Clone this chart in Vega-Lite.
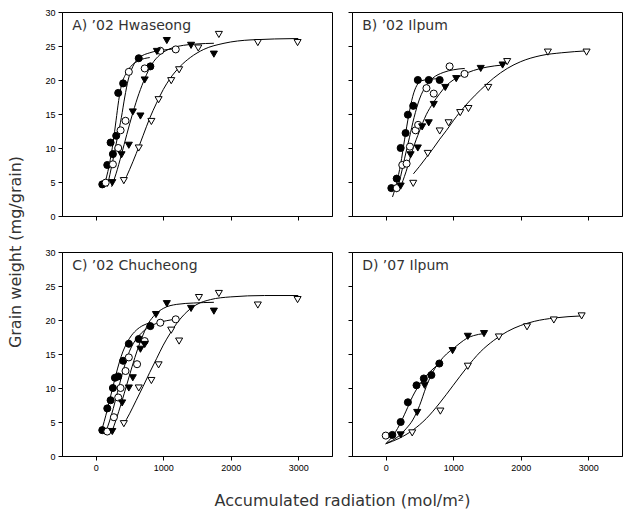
{
  "$schema": "https://vega.github.io/schema/vega-lite/v6.json",
  "padding": {"left": 8, "top": 7, "right": 5, "bottom": 5},
  "config": {
    "view": {"stroke": "black", "strokeWidth": 1},
    "axis": {"domainColor": "black", "tickColor": "black", "labelColor": "black", "labelFont": "Liberation Sans", "labelFontSize": 9, "tickSize": 4, "labelPadding": 3, "grid": false, "title": null, "labelOverlap": false},
    "concat": {"spacing": 14}
  },
  "datasets": {
    "points": [
      {"panel": "A", "s": "fc", "x": 97, "y": 4.65}, {"panel": "A", "s": "fc", "x": 171, "y": 7.5}, {"panel": "A", "s": "fc", "x": 220, "y": 10.8}, {"panel": "A", "s": "fc", "x": 254, "y": 9.1}, {"panel": "A", "s": "fc", "x": 303, "y": 11.8}, {"panel": "A", "s": "fc", "x": 333, "y": 18.1}, {"panel": "A", "s": "fc", "x": 406, "y": 19.5}, {"panel": "A", "s": "fc", "x": 637, "y": 23.2}, {"panel": "A", "s": "fc", "x": 809, "y": 22.0},
      {"panel": "A", "s": "oc", "x": 147, "y": 4.9}, {"panel": "A", "s": "oc", "x": 254, "y": 7.6}, {"panel": "A", "s": "oc", "x": 333, "y": 10.0}, {"panel": "A", "s": "oc", "x": 368, "y": 12.6}, {"panel": "A", "s": "oc", "x": 441, "y": 14.0}, {"panel": "A", "s": "oc", "x": 490, "y": 21.2}, {"panel": "A", "s": "oc", "x": 725, "y": 21.7}, {"panel": "A", "s": "oc", "x": 956, "y": 24.3}, {"panel": "A", "s": "oc", "x": 1185, "y": 24.5},
      {"panel": "A", "s": "ft", "x": 245, "y": 4.9}, {"panel": "A", "s": "ft", "x": 382, "y": 9.0}, {"panel": "A", "s": "ft", "x": 490, "y": 10.4}, {"panel": "A", "s": "ft", "x": 549, "y": 15.3}, {"panel": "A", "s": "ft", "x": 662, "y": 14.7}, {"panel": "A", "s": "ft", "x": 725, "y": 20.0}, {"panel": "A", "s": "ft", "x": 906, "y": 24.2}, {"panel": "A", "s": "ft", "x": 1053, "y": 25.8}, {"panel": "A", "s": "ft", "x": 1412, "y": 25.1}, {"panel": "A", "s": "ft", "x": 1750, "y": 23.8},
      {"panel": "A", "s": "ot", "x": 416, "y": 5.2}, {"panel": "A", "s": "ot", "x": 637, "y": 10.0}, {"panel": "A", "s": "ot", "x": 824, "y": 13.9}, {"panel": "A", "s": "ot", "x": 931, "y": 17.1}, {"panel": "A", "s": "ot", "x": 1118, "y": 19.9}, {"panel": "A", "s": "ot", "x": 1235, "y": 21.5}, {"panel": "A", "s": "ot", "x": 1519, "y": 24.7}, {"panel": "A", "s": "ot", "x": 1824, "y": 26.7}, {"panel": "A", "s": "ot", "x": 2401, "y": 25.5}, {"panel": "A", "s": "ot", "x": 2990, "y": 25.5},

      {"panel": "B", "s": "fc", "x": 83, "y": 4.1}, {"panel": "B", "s": "fc", "x": 162, "y": 5.5}, {"panel": "B", "s": "fc", "x": 221, "y": 10.0}, {"panel": "B", "s": "fc", "x": 294, "y": 12.2}, {"panel": "B", "s": "fc", "x": 328, "y": 14.9}, {"panel": "B", "s": "fc", "x": 407, "y": 16.2}, {"panel": "B", "s": "fc", "x": 475, "y": 20.0}, {"panel": "B", "s": "fc", "x": 637, "y": 20.0}, {"panel": "B", "s": "fc", "x": 799, "y": 20.0},
      {"panel": "B", "s": "oc", "x": 162, "y": 4.1}, {"panel": "B", "s": "oc", "x": 245, "y": 7.5}, {"panel": "B", "s": "oc", "x": 309, "y": 7.7}, {"panel": "B", "s": "oc", "x": 358, "y": 10.2}, {"panel": "B", "s": "oc", "x": 441, "y": 12.6}, {"panel": "B", "s": "oc", "x": 480, "y": 13.4}, {"panel": "B", "s": "oc", "x": 603, "y": 18.8}, {"panel": "B", "s": "oc", "x": 711, "y": 18.0}, {"panel": "B", "s": "oc", "x": 946, "y": 22.0}, {"panel": "B", "s": "oc", "x": 1167, "y": 20.9},
      {"panel": "B", "s": "ft", "x": 221, "y": 4.4}, {"panel": "B", "s": "ft", "x": 368, "y": 9.0}, {"panel": "B", "s": "ft", "x": 475, "y": 10.0}, {"panel": "B", "s": "ft", "x": 539, "y": 13.1}, {"panel": "B", "s": "ft", "x": 637, "y": 13.7}, {"panel": "B", "s": "ft", "x": 711, "y": 16.4}, {"panel": "B", "s": "ft", "x": 882, "y": 18.9}, {"panel": "B", "s": "ft", "x": 1044, "y": 20.2}, {"panel": "B", "s": "ft", "x": 1407, "y": 21.7}, {"panel": "B", "s": "ft", "x": 1731, "y": 22.2},
      {"panel": "B", "s": "ot", "x": 407, "y": 4.8}, {"panel": "B", "s": "ot", "x": 622, "y": 9.2}, {"panel": "B", "s": "ot", "x": 799, "y": 12.5}, {"panel": "B", "s": "ot", "x": 931, "y": 13.7}, {"panel": "B", "s": "ot", "x": 1103, "y": 15.2}, {"panel": "B", "s": "ot", "x": 1225, "y": 15.8}, {"panel": "B", "s": "ot", "x": 1519, "y": 18.9}, {"panel": "B", "s": "ot", "x": 1799, "y": 22.7}, {"panel": "B", "s": "ot", "x": 2402, "y": 24.1}, {"panel": "B", "s": "ot", "x": 2975, "y": 24.1},

      {"panel": "C", "s": "fc", "x": 97, "y": 3.8}, {"panel": "C", "s": "fc", "x": 171, "y": 7.0}, {"panel": "C", "s": "fc", "x": 220, "y": 8.2}, {"panel": "C", "s": "fc", "x": 254, "y": 10.0}, {"panel": "C", "s": "fc", "x": 284, "y": 11.5}, {"panel": "C", "s": "fc", "x": 333, "y": 11.7}, {"panel": "C", "s": "fc", "x": 406, "y": 14.0}, {"panel": "C", "s": "fc", "x": 490, "y": 16.5}, {"panel": "C", "s": "fc", "x": 637, "y": 17.2}, {"panel": "C", "s": "fc", "x": 809, "y": 19.1},
      {"panel": "C", "s": "oc", "x": 171, "y": 3.6}, {"panel": "C", "s": "oc", "x": 269, "y": 5.7}, {"panel": "C", "s": "oc", "x": 333, "y": 8.6}, {"panel": "C", "s": "oc", "x": 368, "y": 10.0}, {"panel": "C", "s": "oc", "x": 441, "y": 12.5}, {"panel": "C", "s": "oc", "x": 490, "y": 14.5}, {"panel": "C", "s": "oc", "x": 612, "y": 13.5}, {"panel": "C", "s": "oc", "x": 725, "y": 16.9}, {"panel": "C", "s": "oc", "x": 956, "y": 19.6}, {"panel": "C", "s": "oc", "x": 1185, "y": 20.1},
      {"panel": "C", "s": "ft", "x": 245, "y": 3.6}, {"panel": "C", "s": "ft", "x": 391, "y": 7.8}, {"panel": "C", "s": "ft", "x": 490, "y": 10.0}, {"panel": "C", "s": "ft", "x": 549, "y": 11.5}, {"panel": "C", "s": "ft", "x": 662, "y": 15.7}, {"panel": "C", "s": "ft", "x": 725, "y": 16.4}, {"panel": "C", "s": "ft", "x": 892, "y": 20.8}, {"panel": "C", "s": "ft", "x": 1053, "y": 22.4}, {"panel": "C", "s": "ft", "x": 1412, "y": 21.7}, {"panel": "C", "s": "ft", "x": 1750, "y": 21.3},
      {"panel": "C", "s": "ot", "x": 416, "y": 4.75}, {"panel": "C", "s": "ot", "x": 637, "y": 10.0}, {"panel": "C", "s": "ot", "x": 824, "y": 11.1}, {"panel": "C", "s": "ot", "x": 931, "y": 13.4}, {"panel": "C", "s": "ot", "x": 1118, "y": 18.5}, {"panel": "C", "s": "ot", "x": 1235, "y": 16.9}, {"panel": "C", "s": "ot", "x": 1529, "y": 23.3}, {"panel": "C", "s": "ot", "x": 1824, "y": 23.9}, {"panel": "C", "s": "ot", "x": 2401, "y": 22.2}, {"panel": "C", "s": "ot", "x": 2990, "y": 23.0},

      {"panel": "D", "s": "oc", "x": 0, "y": 3.0},
      {"panel": "D", "s": "fc", "x": 98, "y": 3.1}, {"panel": "D", "s": "fc", "x": 221, "y": 5.0}, {"panel": "D", "s": "fc", "x": 328, "y": 7.9}, {"panel": "D", "s": "fc", "x": 456, "y": 10.4}, {"panel": "D", "s": "fc", "x": 564, "y": 11.4}, {"panel": "D", "s": "fc", "x": 676, "y": 11.9}, {"panel": "D", "s": "fc", "x": 794, "y": 13.6},
      {"panel": "D", "s": "ft", "x": 221, "y": 3.1}, {"panel": "D", "s": "ft", "x": 466, "y": 6.4}, {"panel": "D", "s": "ft", "x": 574, "y": 10.4}, {"panel": "D", "s": "ft", "x": 990, "y": 15.5}, {"panel": "D", "s": "ft", "x": 1216, "y": 17.6}, {"panel": "D", "s": "ft", "x": 1456, "y": 18.0},
      {"panel": "D", "s": "ot", "x": 392, "y": 3.4}, {"panel": "D", "s": "ot", "x": 809, "y": 6.6}, {"panel": "D", "s": "ot", "x": 1216, "y": 13.2}, {"panel": "D", "s": "ot", "x": 1676, "y": 17.5}, {"panel": "D", "s": "ot", "x": 2093, "y": 19.0}, {"panel": "D", "s": "ot", "x": 2490, "y": 20.0}, {"panel": "D", "s": "ot", "x": 2902, "y": 20.6}
    ],
    "curves": [
      {"panel": "A", "s": "fc", "x": 120, "y": 4.3}, {"panel": "A", "s": "fc", "x": 200, "y": 7.5}, {"panel": "A", "s": "fc", "x": 260, "y": 11}, {"panel": "A", "s": "fc", "x": 300, "y": 14}, {"panel": "A", "s": "fc", "x": 340, "y": 17}, {"panel": "A", "s": "fc", "x": 380, "y": 19.2}, {"panel": "A", "s": "fc", "x": 440, "y": 20.8}, {"panel": "A", "s": "fc", "x": 520, "y": 22}, {"panel": "A", "s": "fc", "x": 650, "y": 22.9}, {"panel": "A", "s": "fc", "x": 800, "y": 23.3},
      {"panel": "A", "s": "oc", "x": 170, "y": 4.3}, {"panel": "A", "s": "oc", "x": 250, "y": 8}, {"panel": "A", "s": "oc", "x": 320, "y": 11.5}, {"panel": "A", "s": "oc", "x": 380, "y": 14.5}, {"panel": "A", "s": "oc", "x": 430, "y": 17.5}, {"panel": "A", "s": "oc", "x": 480, "y": 20}, {"panel": "A", "s": "oc", "x": 550, "y": 22}, {"panel": "A", "s": "oc", "x": 650, "y": 23.3}, {"panel": "A", "s": "oc", "x": 800, "y": 24}, {"panel": "A", "s": "oc", "x": 1000, "y": 24.4}, {"panel": "A", "s": "oc", "x": 1200, "y": 24.6},
      {"panel": "A", "s": "ft", "x": 235, "y": 4.3}, {"panel": "A", "s": "ft", "x": 300, "y": 6.2}, {"panel": "A", "s": "ft", "x": 380, "y": 9}, {"panel": "A", "s": "ft", "x": 460, "y": 12}, {"panel": "A", "s": "ft", "x": 550, "y": 15.2}, {"panel": "A", "s": "ft", "x": 640, "y": 18}, {"panel": "A", "s": "ft", "x": 730, "y": 20.3}, {"panel": "A", "s": "ft", "x": 830, "y": 22.3}, {"panel": "A", "s": "ft", "x": 950, "y": 23.7}, {"panel": "A", "s": "ft", "x": 1100, "y": 24.6}, {"panel": "A", "s": "ft", "x": 1300, "y": 25.1}, {"panel": "A", "s": "ft", "x": 1500, "y": 25.3}, {"panel": "A", "s": "ft", "x": 1750, "y": 25.4},
      {"panel": "A", "s": "ot", "x": 410, "y": 4.8}, {"panel": "A", "s": "ot", "x": 500, "y": 6.8}, {"panel": "A", "s": "ot", "x": 600, "y": 9.2}, {"panel": "A", "s": "ot", "x": 700, "y": 11.8}, {"panel": "A", "s": "ot", "x": 800, "y": 14.4}, {"panel": "A", "s": "ot", "x": 900, "y": 16.6}, {"panel": "A", "s": "ot", "x": 1000, "y": 18.6}, {"panel": "A", "s": "ot", "x": 1100, "y": 20.2}, {"panel": "A", "s": "ot", "x": 1250, "y": 22}, {"panel": "A", "s": "ot", "x": 1400, "y": 23.3}, {"panel": "A", "s": "ot", "x": 1600, "y": 24.5}, {"panel": "A", "s": "ot", "x": 1900, "y": 25.4}, {"panel": "A", "s": "ot", "x": 2300, "y": 25.9}, {"panel": "A", "s": "ot", "x": 3000, "y": 26.1},

      {"panel": "B", "s": "fc", "x": 100, "y": 2.8}, {"panel": "B", "s": "fc", "x": 160, "y": 4.8}, {"panel": "B", "s": "fc", "x": 220, "y": 7.6}, {"panel": "B", "s": "fc", "x": 280, "y": 11.3}, {"panel": "B", "s": "fc", "x": 340, "y": 14.8}, {"panel": "B", "s": "fc", "x": 400, "y": 17.6}, {"panel": "B", "s": "fc", "x": 460, "y": 19.2}, {"panel": "B", "s": "fc", "x": 530, "y": 19.9}, {"panel": "B", "s": "fc", "x": 650, "y": 20.1}, {"panel": "B", "s": "fc", "x": 800, "y": 20.2},
      {"panel": "B", "s": "oc", "x": 160, "y": 3.5}, {"panel": "B", "s": "oc", "x": 220, "y": 5.8}, {"panel": "B", "s": "oc", "x": 280, "y": 8.5}, {"panel": "B", "s": "oc", "x": 350, "y": 11.5}, {"panel": "B", "s": "oc", "x": 420, "y": 14.5}, {"panel": "B", "s": "oc", "x": 500, "y": 17.2}, {"panel": "B", "s": "oc", "x": 600, "y": 19.2}, {"panel": "B", "s": "oc", "x": 700, "y": 20.3}, {"panel": "B", "s": "oc", "x": 850, "y": 21.1}, {"panel": "B", "s": "oc", "x": 1000, "y": 21.5}, {"panel": "B", "s": "oc", "x": 1170, "y": 21.7},
      {"panel": "B", "s": "ft", "x": 210, "y": 4}, {"panel": "B", "s": "ft", "x": 300, "y": 6.5}, {"panel": "B", "s": "ft", "x": 400, "y": 9.8}, {"panel": "B", "s": "ft", "x": 500, "y": 12.5}, {"panel": "B", "s": "ft", "x": 600, "y": 14.9}, {"panel": "B", "s": "ft", "x": 700, "y": 16.6}, {"panel": "B", "s": "ft", "x": 800, "y": 18}, {"panel": "B", "s": "ft", "x": 900, "y": 19.2}, {"panel": "B", "s": "ft", "x": 1000, "y": 20}, {"panel": "B", "s": "ft", "x": 1150, "y": 20.8}, {"panel": "B", "s": "ft", "x": 1300, "y": 21.4}, {"panel": "B", "s": "ft", "x": 1500, "y": 21.9}, {"panel": "B", "s": "ft", "x": 1730, "y": 22.2},
      {"panel": "B", "s": "ot", "x": 410, "y": 6.2}, {"panel": "B", "s": "ot", "x": 500, "y": 7.3}, {"panel": "B", "s": "ot", "x": 600, "y": 8.6}, {"panel": "B", "s": "ot", "x": 700, "y": 9.9}, {"panel": "B", "s": "ot", "x": 800, "y": 11.3}, {"panel": "B", "s": "ot", "x": 900, "y": 12.6}, {"panel": "B", "s": "ot", "x": 1000, "y": 14}, {"panel": "B", "s": "ot", "x": 1100, "y": 15.3}, {"panel": "B", "s": "ot", "x": 1250, "y": 17}, {"panel": "B", "s": "ot", "x": 1400, "y": 18.5}, {"panel": "B", "s": "ot", "x": 1600, "y": 20.3}, {"panel": "B", "s": "ot", "x": 1800, "y": 21.7}, {"panel": "B", "s": "ot", "x": 2000, "y": 22.7}, {"panel": "B", "s": "ot", "x": 2300, "y": 23.6}, {"panel": "B", "s": "ot", "x": 2600, "y": 24}, {"panel": "B", "s": "ot", "x": 3000, "y": 24.3},

      {"panel": "C", "s": "fc", "x": 100, "y": 4.2}, {"panel": "C", "s": "fc", "x": 150, "y": 6}, {"panel": "C", "s": "fc", "x": 200, "y": 8}, {"panel": "C", "s": "fc", "x": 250, "y": 10}, {"panel": "C", "s": "fc", "x": 300, "y": 12}, {"panel": "C", "s": "fc", "x": 350, "y": 13.8}, {"panel": "C", "s": "fc", "x": 400, "y": 15.3}, {"panel": "C", "s": "fc", "x": 450, "y": 16.4}, {"panel": "C", "s": "fc", "x": 500, "y": 17.3}, {"panel": "C", "s": "fc", "x": 600, "y": 18.5}, {"panel": "C", "s": "fc", "x": 700, "y": 19.2}, {"panel": "C", "s": "fc", "x": 810, "y": 19.6},
      {"panel": "C", "s": "oc", "x": 150, "y": 3.6}, {"panel": "C", "s": "oc", "x": 200, "y": 5}, {"panel": "C", "s": "oc", "x": 260, "y": 7}, {"panel": "C", "s": "oc", "x": 320, "y": 9.3}, {"panel": "C", "s": "oc", "x": 380, "y": 11.6}, {"panel": "C", "s": "oc", "x": 440, "y": 13.7}, {"panel": "C", "s": "oc", "x": 500, "y": 15.4}, {"panel": "C", "s": "oc", "x": 560, "y": 16.6}, {"panel": "C", "s": "oc", "x": 650, "y": 17.8}, {"panel": "C", "s": "oc", "x": 750, "y": 18.7}, {"panel": "C", "s": "oc", "x": 900, "y": 19.5}, {"panel": "C", "s": "oc", "x": 1050, "y": 19.9}, {"panel": "C", "s": "oc", "x": 1180, "y": 20.1},
      {"panel": "C", "s": "ft", "x": 240, "y": 3.6}, {"panel": "C", "s": "ft", "x": 300, "y": 5.3}, {"panel": "C", "s": "ft", "x": 380, "y": 7.8}, {"panel": "C", "s": "ft", "x": 460, "y": 10.5}, {"panel": "C", "s": "ft", "x": 540, "y": 13.2}, {"panel": "C", "s": "ft", "x": 620, "y": 15.7}, {"panel": "C", "s": "ft", "x": 700, "y": 17.8}, {"panel": "C", "s": "ft", "x": 780, "y": 19.5}, {"panel": "C", "s": "ft", "x": 880, "y": 20.8}, {"panel": "C", "s": "ft", "x": 1000, "y": 21.7}, {"panel": "C", "s": "ft", "x": 1200, "y": 22.3}, {"panel": "C", "s": "ft", "x": 1450, "y": 22.5}, {"panel": "C", "s": "ft", "x": 1750, "y": 22.6},
      {"panel": "C", "s": "ot", "x": 410, "y": 4.6}, {"panel": "C", "s": "ot", "x": 500, "y": 6.2}, {"panel": "C", "s": "ot", "x": 600, "y": 8.2}, {"panel": "C", "s": "ot", "x": 700, "y": 10.2}, {"panel": "C", "s": "ot", "x": 800, "y": 12.3}, {"panel": "C", "s": "ot", "x": 900, "y": 14.3}, {"panel": "C", "s": "ot", "x": 1000, "y": 16.3}, {"panel": "C", "s": "ot", "x": 1100, "y": 18}, {"panel": "C", "s": "ot", "x": 1200, "y": 19.5}, {"panel": "C", "s": "ot", "x": 1350, "y": 21.2}, {"panel": "C", "s": "ot", "x": 1500, "y": 22.3}, {"panel": "C", "s": "ot", "x": 1700, "y": 23}, {"panel": "C", "s": "ot", "x": 2000, "y": 23.4}, {"panel": "C", "s": "ot", "x": 2500, "y": 23.6}, {"panel": "C", "s": "ot", "x": 3000, "y": 23.6},

      {"panel": "D", "s": "fc", "x": 0, "y": 1.8}, {"panel": "D", "s": "fc", "x": 100, "y": 2.9}, {"panel": "D", "s": "fc", "x": 200, "y": 4.5}, {"panel": "D", "s": "fc", "x": 300, "y": 6.6}, {"panel": "D", "s": "fc", "x": 400, "y": 8.8}, {"panel": "D", "s": "fc", "x": 500, "y": 10.5}, {"panel": "D", "s": "fc", "x": 600, "y": 11.8}, {"panel": "D", "s": "fc", "x": 700, "y": 12.8}, {"panel": "D", "s": "fc", "x": 800, "y": 13.6},
      {"panel": "D", "s": "ft", "x": 0, "y": 1.8}, {"panel": "D", "s": "ft", "x": 200, "y": 3.0}, {"panel": "D", "s": "ft", "x": 300, "y": 4.0}, {"panel": "D", "s": "ft", "x": 400, "y": 5.3}, {"panel": "D", "s": "ft", "x": 500, "y": 7.4}, {"panel": "D", "s": "ft", "x": 600, "y": 10.2}, {"panel": "D", "s": "ft", "x": 700, "y": 12.4}, {"panel": "D", "s": "ft", "x": 800, "y": 13.9}, {"panel": "D", "s": "ft", "x": 900, "y": 15}, {"panel": "D", "s": "ft", "x": 1000, "y": 15.8}, {"panel": "D", "s": "ft", "x": 1100, "y": 16.6}, {"panel": "D", "s": "ft", "x": 1200, "y": 17.3}, {"panel": "D", "s": "ft", "x": 1300, "y": 17.7}, {"panel": "D", "s": "ft", "x": 1450, "y": 18.0},
      {"panel": "D", "s": "ot", "x": 0, "y": 1.8}, {"panel": "D", "s": "ot", "x": 200, "y": 2.6}, {"panel": "D", "s": "ot", "x": 400, "y": 3.8}, {"panel": "D", "s": "ot", "x": 600, "y": 5.5}, {"panel": "D", "s": "ot", "x": 800, "y": 7.8}, {"panel": "D", "s": "ot", "x": 1000, "y": 10.4}, {"panel": "D", "s": "ot", "x": 1200, "y": 13}, {"panel": "D", "s": "ot", "x": 1400, "y": 15.3}, {"panel": "D", "s": "ot", "x": 1600, "y": 17}, {"panel": "D", "s": "ot", "x": 1800, "y": 18.3}, {"panel": "D", "s": "ot", "x": 2000, "y": 19.2}, {"panel": "D", "s": "ot", "x": 2200, "y": 19.8}, {"panel": "D", "s": "ot", "x": 2500, "y": 20.3}, {"panel": "D", "s": "ot", "x": 2900, "y": 20.6}
    ]
  },
  "title": {"text": "Grain weight (mg/grain)", "orient": "left", "anchor": "middle", "font": "DejaVu Sans", "fontSize": 16, "fontWeight": "normal", "color": "#333", "offset": 20, "dx": 6},
  "hconcat": [
    {
      "title": {"text": "Accumulated radiation (mol/m²)", "orient": "bottom", "anchor": "middle", "font": "DejaVu Sans", "fontSize": 16, "fontWeight": "normal", "color": "#333", "offset": 20, "dx": 9},
      "spacing": 25,
      "vconcat": [
        {
          "spacing": 14,
          "hconcat": [
            {
              "width": 270, "height": 204,
              "encoding": {
                "x": {"field": "x", "type": "quantitative", "scale": {"domain": [-500, 3500], "nice": false, "zero": false}, "axis": {"values": [0, 1000, 2000, 3000], "labels": false, "format": "d"}},
                "y": {"field": "y", "type": "quantitative", "scale": {"domain": [0, 30], "nice": false}, "axis": {"values": [0, 5, 10, 15, 20, 25, 30], "labels": true, "format": "d"}}
              },
              "layer": [
                {"data": {"name": "curves"}, "transform": [{"filter": "datum.panel === 'A'"}], "mark": {"type": "line", "color": "black", "strokeWidth": 1, "interpolate": "monotone"},
                 "encoding": {"detail": {"field": "s"}}},
                {"data": {"name": "points"}, "transform": [{"filter": "datum.panel === 'A'"}], "mark": {"type": "point", "filled": true, "stroke": "black", "strokeWidth": 1, "size": 50, "opacity": 1},
                 "encoding": {"shape": {"field": "s", "type": "nominal", "scale": {"domain": ["fc", "oc", "ft", "ot"], "range": ["circle", "circle", "triangle-down", "triangle-down"]}, "legend": null}, "fill": {"field": "s", "type": "nominal", "scale": {"domain": ["fc", "oc", "ft", "ot"], "range": ["black", "white", "black", "white"]}, "legend": null}}},
                {"data": {"values": [{"label": "A) ’02 Hwaseong", "x": -350, "y": 27.9}]}, "mark": {"type": "text", "align": "left", "baseline": "middle", "font": "DejaVu Sans", "fontSize": 14, "color": "#333"},
                 "encoding": {"text": {"field": "label"}}}
              ]
            },
            {
              "width": 270, "height": 204,
              "encoding": {
                "x": {"field": "x", "type": "quantitative", "scale": {"domain": [-500, 3500], "nice": false, "zero": false}, "axis": {"values": [0, 1000, 2000, 3000], "labels": false, "format": "d"}},
                "y": {"field": "y", "type": "quantitative", "scale": {"domain": [0, 30], "nice": false}, "axis": {"values": [0, 5, 10, 15, 20, 25, 30], "labels": false, "format": "d"}}
              },
              "layer": [
                {"data": {"name": "curves"}, "transform": [{"filter": "datum.panel === 'B'"}], "mark": {"type": "line", "color": "black", "strokeWidth": 1, "interpolate": "monotone"},
                 "encoding": {"detail": {"field": "s"}}},
                {"data": {"name": "points"}, "transform": [{"filter": "datum.panel === 'B'"}], "mark": {"type": "point", "filled": true, "stroke": "black", "strokeWidth": 1, "size": 50, "opacity": 1},
                 "encoding": {"shape": {"field": "s", "type": "nominal", "scale": {"domain": ["fc", "oc", "ft", "ot"], "range": ["circle", "circle", "triangle-down", "triangle-down"]}, "legend": null}, "fill": {"field": "s", "type": "nominal", "scale": {"domain": ["fc", "oc", "ft", "ot"], "range": ["black", "white", "black", "white"]}, "legend": null}}},
                {"data": {"values": [{"label": "B) ’02 Ilpum", "x": -350, "y": 27.9}]}, "mark": {"type": "text", "align": "left", "baseline": "middle", "font": "DejaVu Sans", "fontSize": 14, "color": "#333"},
                 "encoding": {"text": {"field": "label"}}}
              ]
            }
          ]
        },
        {
          "spacing": 14,
          "hconcat": [
            {
              "width": 270, "height": 204,
              "encoding": {
                "x": {"field": "x", "type": "quantitative", "scale": {"domain": [-500, 3500], "nice": false, "zero": false}, "axis": {"values": [0, 1000, 2000, 3000], "labels": true, "format": "d"}},
                "y": {"field": "y", "type": "quantitative", "scale": {"domain": [0, 30], "nice": false}, "axis": {"values": [0, 5, 10, 15, 20, 25, 30], "labels": true, "format": "d"}}
              },
              "layer": [
                {"data": {"name": "curves"}, "transform": [{"filter": "datum.panel === 'C'"}], "mark": {"type": "line", "color": "black", "strokeWidth": 1, "interpolate": "monotone"},
                 "encoding": {"detail": {"field": "s"}}},
                {"data": {"name": "points"}, "transform": [{"filter": "datum.panel === 'C'"}], "mark": {"type": "point", "filled": true, "stroke": "black", "strokeWidth": 1, "size": 50, "opacity": 1},
                 "encoding": {"shape": {"field": "s", "type": "nominal", "scale": {"domain": ["fc", "oc", "ft", "ot"], "range": ["circle", "circle", "triangle-down", "triangle-down"]}, "legend": null}, "fill": {"field": "s", "type": "nominal", "scale": {"domain": ["fc", "oc", "ft", "ot"], "range": ["black", "white", "black", "white"]}, "legend": null}}},
                {"data": {"values": [{"label": "C) ’02 Chucheong", "x": -350, "y": 27.9}]}, "mark": {"type": "text", "align": "left", "baseline": "middle", "font": "DejaVu Sans", "fontSize": 14, "color": "#333"},
                 "encoding": {"text": {"field": "label"}}}
              ]
            },
            {
              "width": 270, "height": 204,
              "encoding": {
                "x": {"field": "x", "type": "quantitative", "scale": {"domain": [-500, 3500], "nice": false, "zero": false}, "axis": {"values": [0, 1000, 2000, 3000], "labels": true, "format": "d"}},
                "y": {"field": "y", "type": "quantitative", "scale": {"domain": [0, 30], "nice": false}, "axis": {"values": [0, 5, 10, 15, 20, 25, 30], "labels": false, "format": "d"}}
              },
              "layer": [
                {"data": {"name": "curves"}, "transform": [{"filter": "datum.panel === 'D'"}], "mark": {"type": "line", "color": "black", "strokeWidth": 1, "interpolate": "monotone"},
                 "encoding": {"detail": {"field": "s"}}},
                {"data": {"name": "points"}, "transform": [{"filter": "datum.panel === 'D'"}], "mark": {"type": "point", "filled": true, "stroke": "black", "strokeWidth": 1, "size": 50, "opacity": 1},
                 "encoding": {"shape": {"field": "s", "type": "nominal", "scale": {"domain": ["fc", "oc", "ft", "ot"], "range": ["circle", "circle", "triangle-down", "triangle-down"]}, "legend": null}, "fill": {"field": "s", "type": "nominal", "scale": {"domain": ["fc", "oc", "ft", "ot"], "range": ["black", "white", "black", "white"]}, "legend": null}}},
                {"data": {"values": [{"label": "D) ’07 Ilpum", "x": -350, "y": 27.9}]}, "mark": {"type": "text", "align": "left", "baseline": "middle", "font": "DejaVu Sans", "fontSize": 14, "color": "#333"},
                 "encoding": {"text": {"field": "label"}}}
              ]
            }
          ]
        }
      ]
    }
  ]
}
